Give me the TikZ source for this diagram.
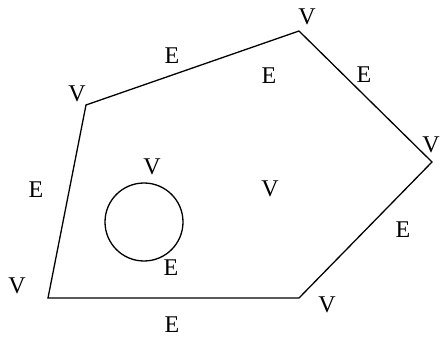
\documentclass[tikz,border=0pt]{standalone}
\usepackage{fontspec}
\setmainfont{Liberation Serif}
\begin{document}
\begin{tikzpicture}[x=1pt,y=-1pt,
  lbl/.style={inner sep=0pt,font=\fontsize{24}{24}\selectfont},
  edge/.style={line width=1.3pt,line join=miter}]
\useasboundingbox (0,0) rectangle (440,337);
\coordinate (A) at (86,105);
\coordinate (B) at (299,31);
\coordinate (C) at (432,162);
\coordinate (D) at (299,298);
\coordinate (F) at (48,298);
\draw[edge] (A) -- (B) -- (C) -- (D) -- (F) -- cycle;
\node[draw,circle,line width=1.3pt,minimum size=78pt,inner sep=0pt] (O) at (144,222) {};
\node[lbl] (v1) at (77,94) {V};
\node[lbl] (e1) at (172,56) {E};
\node[lbl] (v2) at (307,17) {V};
\node[lbl] (e2) at (269,76) {E};
\node[lbl] (e3) at (364,75) {E};
\node[lbl] (v3) at (431,145) {V};
\node[lbl] (e4) at (36,190) {E};
\node[lbl] (v4) at (152,167) {V};
\node[lbl] (v5) at (270,189) {V};
\node[lbl] (e5) at (171,268) {E};
\node[lbl] (v6) at (17,286) {V};
\node[lbl] (e6) at (403,230) {E};
\node[lbl] (v7) at (327,305) {V};
\node[lbl] (e7) at (172,325) {E};
\end{tikzpicture}
\end{document}
